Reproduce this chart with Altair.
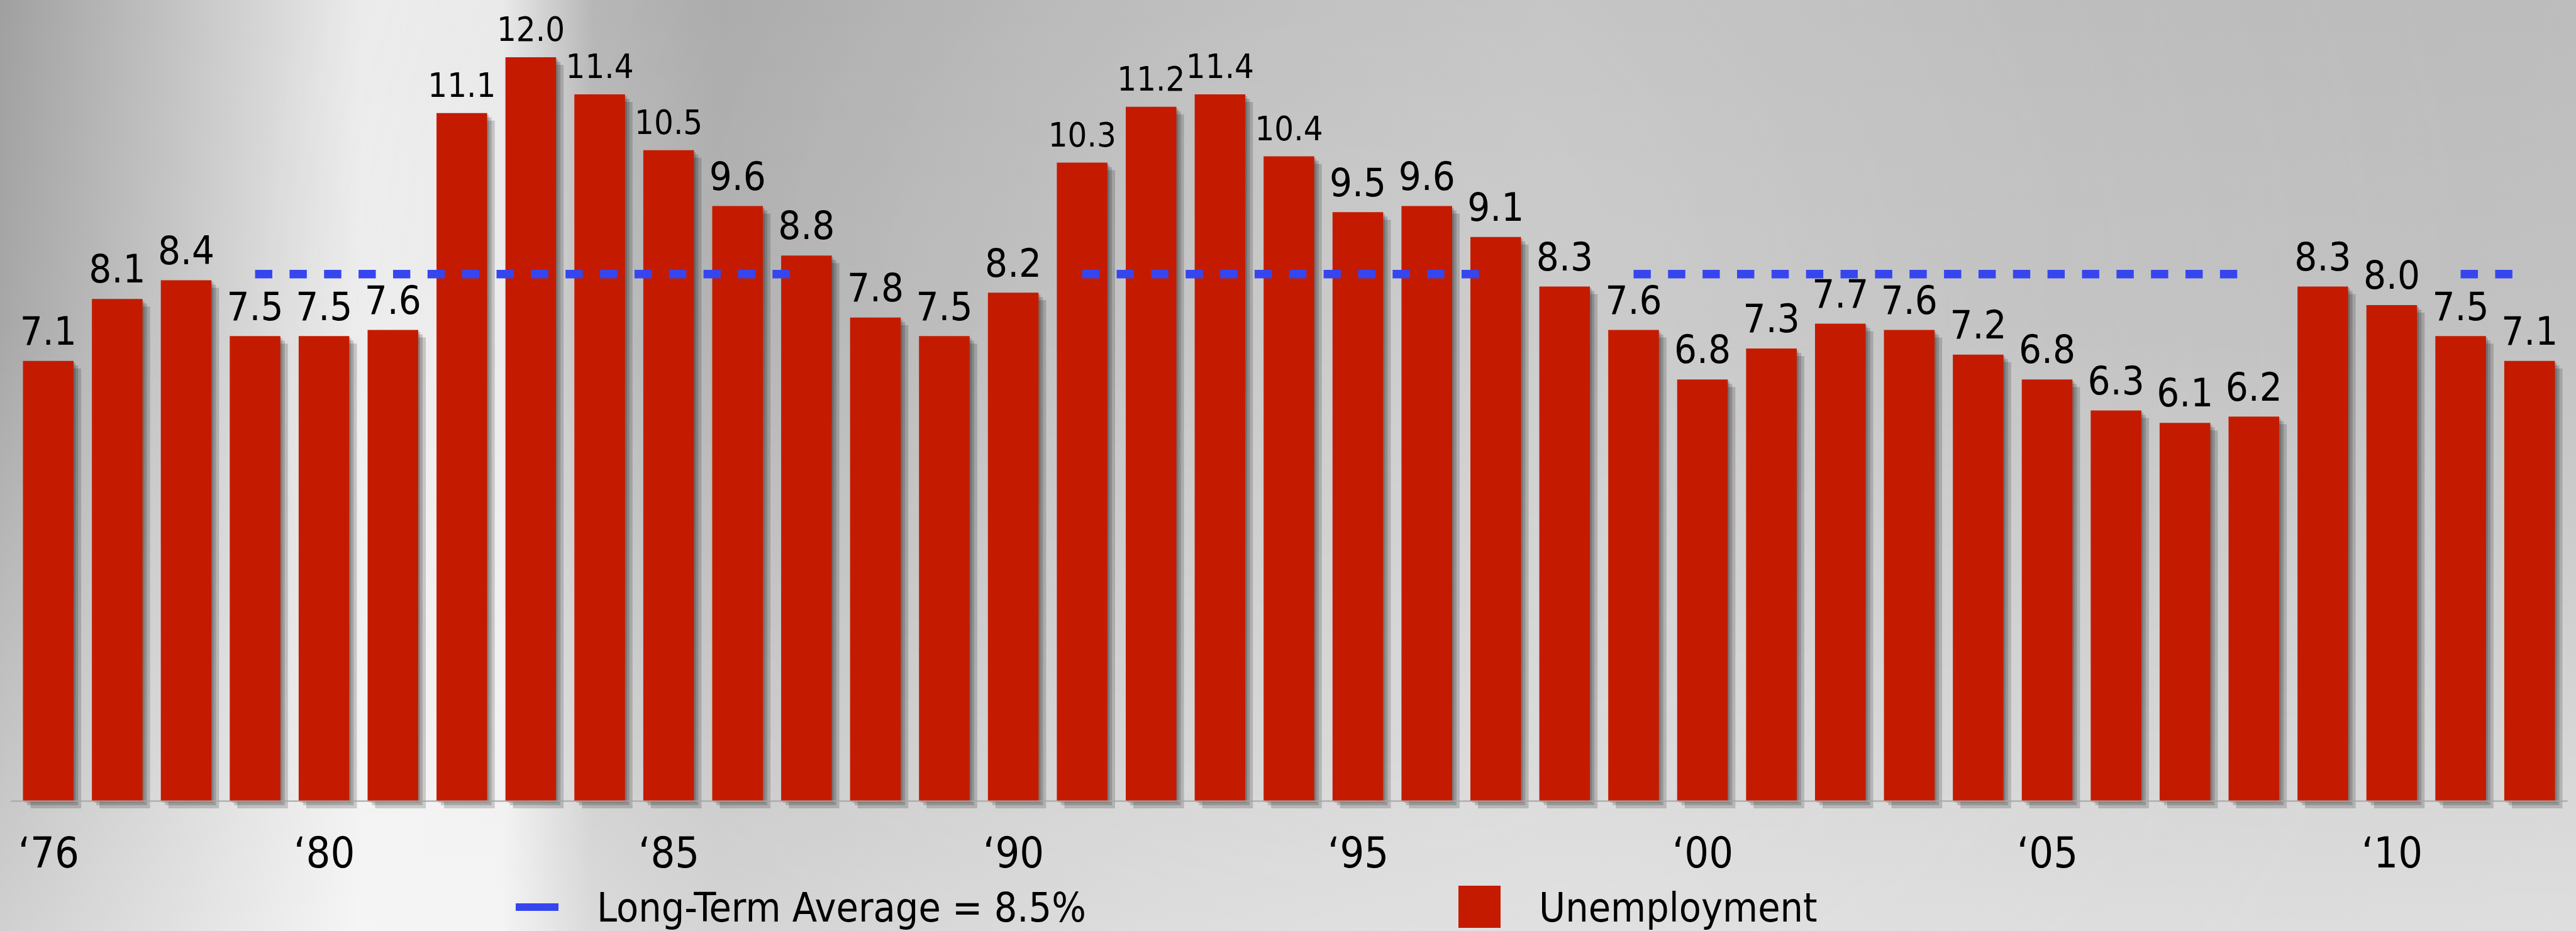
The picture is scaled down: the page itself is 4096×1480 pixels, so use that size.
import altair as alt
import pandas as pd

# ---------------- data ----------------
years = list(range(1976, 2013))
rates = [7.1, 8.1, 8.4, 7.5, 7.5, 7.6, 11.1, 12.0, 11.4, 10.5, 9.6, 8.8,
         7.8, 7.5, 8.2, 10.3, 11.2, 11.4, 10.4, 9.5, 9.6, 9.1, 8.3, 7.6,
         6.8, 7.3, 7.7, 7.6, 7.2, 6.8, 6.3, 6.1, 6.2, 8.3, 8.0, 7.5, 7.1]
tick_years = [1976, 1980, 1985, 1990, 1995, 2000, 2005, 2010]
avg_value = 8.5
avg_start = [1979, 1991, 1999, 2011]
avg_end = [1987, 1997, 2008, 2012]
legend_avg = "Long-Term Average = 8.5%"
legend_bar = "Unemployment"

# ---------------- style ----------------
S = 0.857
FONT = "DejaVu Sans Condensed, Liberation Sans Narrow, Liberation Sans, sans-serif"
RED = "#C41B00"
BLUE = "#3546EF"
W, H = 4096, 1480
PAD_L, PAD_R, PAD_T = 17, 14, 0
PW = W - PAD_L - PAD_R
PH = 1273
PAD_B = H - PH

bars = pd.DataFrame({"year": years, "rate": rates})
bars["label"] = [f"{v:.1f}" for v in rates]
avg = pd.DataFrame({"start": avg_start, "end": avg_end, "value": [avg_value] * len(avg_start)})
one = pd.DataFrame({"k": [0]})

xscale = alt.Scale(domain=[1975.5, 2012.5], nice=False, zero=False)
yscale = alt.Scale(domain=[0, 12.924], nice=False)
XAXIS = alt.Axis(values=tick_years,
                 labelExpr="'\u2018' + substring(toString(datum.value), 2)",
                 grid=False, ticks=False, tickSize=0,
                 domainColor="#a6a6a6", domainWidth=2,
                 labelFont=FONT, labelFontSize=68, labelColor="black",
                 labelPadding=105, labelBaseline="alphabetic",
                 labelAngle=0, labelFlush=False, labelOverlap=False,
                 title=None, zindex=1)

# ---------------- background ----------------
def full_rect(fill):
    return alt.Chart(one).mark_rect(color=fill).encode(
        x=alt.value(-PAD_L), x2=alt.value(W - PAD_L), y=alt.value(0), y2=alt.value(H))

bg_h = full_rect(alt.LinearGradient(
    gradient="linear", x1=0, x2=1, y1=0, y2=0,
    stops=[
        alt.GradientStop(offset=0.0, color="#a0a0a0"),
        alt.GradientStop(offset=0.07, color="#c4c4c4"),
        alt.GradientStop(offset=0.14, color="#ebebeb"),
        alt.GradientStop(offset=0.195, color="#e9e9e9"),
        alt.GradientStop(offset=0.23, color="#b2b2b2"),
        alt.GradientStop(offset=0.28, color="#a4a4a4"),
        alt.GradientStop(offset=0.45, color="#b3b3b3"),
        alt.GradientStop(offset=0.6, color="#bcbcbc"),
        alt.GradientStop(offset=0.8, color="#b9b9b9"),
        alt.GradientStop(offset=1.0, color="#bdbdbd"),
    ]))

bg_v = full_rect(alt.LinearGradient(
    gradient="linear", x1=0, x2=0, y1=0, y2=1,
    stops=[
        alt.GradientStop(offset=0.0, color="rgba(255,255,255,0)"),
        alt.GradientStop(offset=0.35, color="rgba(255,255,255,0.08)"),
        alt.GradientStop(offset=0.75, color="rgba(255,255,255,0.35)"),
        alt.GradientStop(offset=1.0, color="rgba(255,255,255,0.5)"),
    ]))

bg_r = full_rect(alt.RadialGradient(
    gradient="radial", x1=0.52, y1=0.45, x2=0.52, y2=0.45, r1=0, r2=0.45,
    stops=[
        alt.GradientStop(offset=0.0, color="rgba(255,255,255,0.22)"),
        alt.GradientStop(offset=1.0, color="rgba(255,255,255,0)"),
    ]))

# ---------------- bars ----------------
base = alt.Chart(bars)
BW = 94 * S

shadows = [
    base.mark_bar(size=BW, color="black", opacity=0.17, xOffset=d, yOffset=d).encode(
        x=alt.X("year:Q", scale=xscale, axis=XAXIS),
        y=alt.Y("rate:Q", scale=yscale, axis=None),
    )
    for d in (3, 7, 12)
]

bar_layer = base.mark_bar(size=BW, color=RED).encode(
    x=alt.X("year:Q", scale=xscale, axis=XAXIS),
    y=alt.Y("rate:Q", scale=yscale, axis=None),
)

avg_layer = alt.Chart(avg).mark_rule(
    color=BLUE, strokeWidth=16 * S, strokeDash=[32 * S, 32 * S]
).encode(
    x=alt.X("start:Q", scale=xscale, axis=XAXIS),
    x2="end:Q",
    y=alt.Y("value:Q", scale=yscale, axis=None),
)

labels = base.mark_text(
    font=FONT, color="black", align="center", baseline="alphabetic", dy=-30 * S
).encode(
    x=alt.X("year:Q", scale=xscale, axis=XAXIS),
    y=alt.Y("rate:Q", scale=yscale, axis=None),
    text="label:N",
    size=alt.condition(alt.datum.rate >= 10, alt.value(54), alt.value(63)),
)

# ---------------- legend ----------------
LFS = 64
lg_blue = alt.Chart(one).mark_rect(color=BLUE).encode(
    x=alt.value(820 - PAD_L), x2=alt.value(888 - PAD_L),
    y=alt.value(1436), y2=alt.value(1448))
lg_blue_t = alt.Chart(one).mark_text(
    text=legend_avg, font=FONT, fontSize=LFS, align="left", baseline="alphabetic", color="black"
).encode(x=alt.value(949 - PAD_L), y=alt.value(1465))
lg_red = alt.Chart(one).mark_rect(color=RED).encode(
    x=alt.value(2319 - PAD_L), x2=alt.value(2386 - PAD_L),
    y=alt.value(1408), y2=alt.value(1475))
lg_red_t = alt.Chart(one).mark_text(
    text=legend_bar, font=FONT, fontSize=LFS, align="left", baseline="alphabetic", color="black"
).encode(x=alt.value(2447 - PAD_L), y=alt.value(1465))

chart = alt.layer(
    bg_h, bg_v, bg_r, *shadows, bar_layer, avg_layer, labels,
    lg_blue, lg_blue_t, lg_red, lg_red_t,
).properties(
    width=PW, height=PH,
    padding={"left": PAD_L, "right": PAD_R, "top": PAD_T, "bottom": PAD_B},
    autosize=alt.AutoSizeParams(type="none"),
).configure_view(stroke=None).configure(background="#b8b8b8")

chart.save("out.html", embed_options={"renderer": "svg", "actions": False})
